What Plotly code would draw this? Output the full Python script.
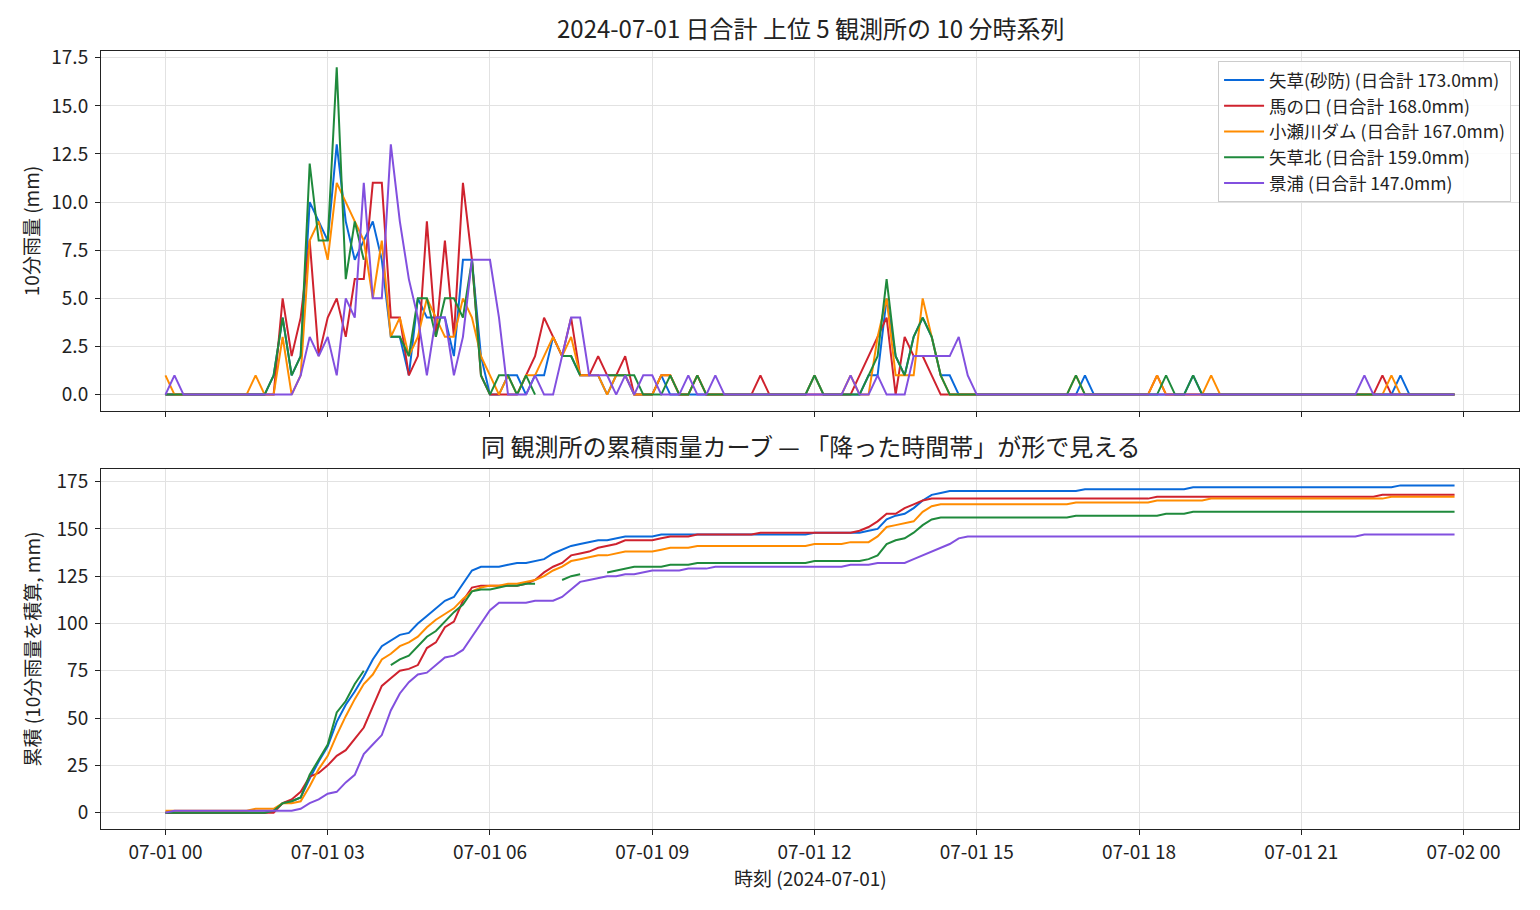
import pandas as pd
import plotly.graph_objects as go
from plotly.subplots import make_subplots

# 10-minute steps for 2024-07-01
times = pd.date_range("2024-07-01 00:00", periods=144, freq="10min")

station_names = ["矢草(砂防)", "馬の口", "小瀬川ダム", "矢草北", "景浦"]
day_totals = [173.0, 168.0, 167.0, 159.0, 147.0]
line_colors = ["#0969da", "#cf222e", "#ff8c00", "#1f8a3c", "#8250df"]

# 10 min rainfall (mm), 12 values per row = 2 hours
yakusa_sabo = [
    0, 0, 0, 0, 0, 0, 0, 0, 0, 0, 0, 0,
    1, 4, 1, 2, 10, 9, 8, 13, 9, 7, 8, 9,
    7, 3, 3, 1, 5, 4, 4, 4, 2, 7, 7, 2,
    0, 0, 1, 1, 0, 1, 1, 3, 2, 2, 1, 1,
    1, 0, 1, 1, 0, 0, 0, 1, 0, 0, 0, 0,
    0, 0, 0, 0, 0, 0, 0, 0, 0, 0, 0, 0,
    1, 0, 0, 0, 0, 0, 1, 1, 5, 2, 1, 3,
    4, 3, 1, 1, 0, 0, 0, 0, 0, 0, 0, 0,
    0, 0, 0, 0, 0, 0, 1, 0, 0, 0, 0, 0,
    0, 0, 0, 0, 0, 0, 1, 0, 0, 0, 0, 0,
    0, 0, 0, 0, 0, 0, 0, 0, 0, 0, 0, 0,
    0, 0, 0, 0, 0, 1, 0, 0, 0, 0, 0, 0,
]
umanokuchi = [
    0, 0, 0, 0, 0, 0, 0, 0, 0, 0, 0, 0,
    0, 5, 2, 4, 8, 2, 4, 5, 3, 6, 6, 11,
    11, 4, 4, 1, 2, 9, 3, 8, 3, 11, 7, 1,
    0, 0, 0, 0, 1, 2, 4, 3, 2, 4, 1, 1,
    2, 1, 1, 2, 0, 0, 0, 1, 1, 0, 0, 1,
    0, 0, 0, 0, 0, 0, 1, 0, 0, 0, 0, 0,
    0, 0, 0, 0, 0, 1, 2, 3, 4, 0, 3, 2,
    2, 1, 0, 0, 0, 0, 0, 0, 0, 0, 0, 0,
    0, 0, 0, 0, 0, 0, 0, 0, 0, 0, 0, 0,
    0, 0, 1, 0, 0, 0, 0, 0, 0, 0, 0, 0,
    0, 0, 0, 0, 0, 0, 0, 0, 0, 0, 0, 0,
    0, 0, 0, 1, 0, 0, 0, 0, 0, 0, 0, 0,
]
kosegawa_dam = [
    1, 0, 0, 0, 0, 0, 0, 0, 0, 0, 1, 0,
    0, 3, 0, 1, 8, 9, 7, 11, 10, 9, 8, 5,
    8, 3, 4, 2, 3, 5, 4, 3, 3, 5, 4, 2,
    1, 0, 1, 0, 1, 1, 2, 3, 2, 3, 1, 1,
    1, 0, 1, 1, 0, 0, 0, 1, 1, 0, 0, 1,
    0, 0, 0, 0, 0, 0, 0, 0, 0, 0, 0, 0,
    1, 0, 0, 0, 1, 0, 0, 3, 5, 1, 1, 1,
    5, 3, 1, 0, 0, 0, 0, 0, 0, 0, 0, 0,
    0, 0, 0, 0, 0, 1, 0, 0, 0, 0, 0, 0,
    0, 0, 1, 0, 0, 0, 0, 0, 1, 0, 0, 0,
    0, 0, 0, 0, 0, 0, 0, 0, 0, 0, 0, 0,
    0, 0, 0, 0, 1, 0, 0, 0, 0, 0, 0, 0,
]
# None = missing record
yakusa_kita = [
    0, 0, 0, 0, 0, 0, 0, 0, 0, 0, 0, 0,
    1, 4, 1, 2, 12, 8, 8, 17, 6, 9, 7, None,
    None, 3, 3, 2, 5, 5, 3, 5, 5, 4, 7, 1,
    0, 1, 1, 0, 1, 0, None, None, 2, 2, 1, None,
    None, 1, 1, 1, 1, 0, 0, 0, 1, 0, 0, 1,
    0, 0, 0, 0, 0, 0, 0, 0, 0, 0, 0, 0,
    1, 0, 0, 0, 0, 0, 1, 2, 6, 2, 1, 3,
    4, 3, 1, 0, 0, 0, 0, 0, 0, 0, 0, 0,
    0, 0, 0, 0, 0, 1, 0, 0, 0, 0, 0, 0,
    0, 0, 0, 1, 0, 0, 1, 0, 0, 0, 0, 0,
    0, 0, 0, 0, 0, 0, 0, 0, 0, 0, 0, 0,
    0, 0, 0, 0, 0, 0, 0, 0, 0, 0, 0, 0,
]
kageura = [
    0, 1, 0, 0, 0, 0, 0, 0, 0, 0, 0, 0,
    0, 0, 0, 1, 3, 2, 3, 1, 5, 4, 11, 5,
    5, 13, 9, 6, 4, 1, 4, 4, 1, 3, 7, 7,
    7, 4, 0, 0, 0, 1, 0, 0, 2, 4, 4, 1,
    1, 1, 0, 1, 0, 1, 1, 0, 0, 0, 1, 0,
    0, 1, 0, 0, 0, 0, 0, 0, 0, 0, 0, 0,
    0, 0, 0, 0, 1, 0, 0, 1, 0, 0, 0, 2,
    2, 2, 2, 2, 3, 1, 0, 0, 0, 0, 0, 0,
    0, 0, 0, 0, 0, 0, 0, 0, 0, 0, 0, 0,
    0, 0, 0, 0, 0, 0, 0, 0, 0, 0, 0, 0,
    0, 0, 0, 0, 0, 0, 0, 0, 0, 0, 0, 0,
    0, 1, 0, 0, 0, 0, 0, 0, 0, 0, 0, 0,
]

series = [yakusa_sabo, umanokuchi, kosegawa_dam, yakusa_kita, kageura]
df = pd.DataFrame({n: pd.Series(v, dtype="float") for n, v in zip(station_names, series)})
df.index = times
cum = df.cumsum()  # NaN stays NaN -> gaps in the curve

FONT = "Noto Sans CJK JP"
INK = "#222222"

fig = make_subplots(rows=2, cols=1, shared_xaxes=True, vertical_spacing=0.0746)

for name, total, color in zip(station_names, day_totals, line_colors):
    fig.add_trace(go.Scatter(x=times, y=df[name], mode="lines", name=f"{name} (日合計 {total:.1f}mm)",
                             line=dict(color=color, width=2)), row=1, col=1)
    fig.add_trace(go.Scatter(x=times, y=cum[name], mode="lines", showlegend=False,
                             line=dict(color=color, width=2)), row=2, col=1)

x_lo = pd.Timestamp("2024-07-01 00:00") - pd.Timedelta(minutes=71.5)
x_hi = pd.Timestamp("2024-07-01 23:50") + pd.Timedelta(minutes=71.5)

axis_style = dict(showline=True, linecolor=INK, linewidth=1, mirror=True, ticks="outside",
                  ticklen=5, tickcolor=INK, showgrid=True, gridcolor="#e2e2e2", gridwidth=1,
                  zeroline=False, ticklabelstandoff=3, tickfont=dict(family=FONT, size=19, color=INK))

fig.update_xaxes(axis_style, type="date", range=[x_lo, x_hi], tick0="2024-07-01 00:00",
                 dtick=3 * 3600 * 1000, tickformat="%m-%d %H", ticklabelstandoff=1)
fig.update_xaxes(showticklabels=False, row=1, col=1)
fig.update_yaxes(axis_style)
fig.update_yaxes(range=[-0.85, 17.85], dtick=2.5, tickformat=".1f",
                 title=dict(text="10分雨量 (mm)", font=dict(family=FONT, size=19, color=INK), standoff=6),
                 row=1, col=1)
fig.update_yaxes(range=[-8.65, 181.65], dtick=25,
                 title=dict(text="累積 (10分雨量を積算, mm)", font=dict(family=FONT, size=19, color=INK), standoff=10),
                 row=2, col=1)

fig.add_annotation(text="2024-07-01 日合計 上位 5 観測所の 10 分時系列", xref="x domain", yref="y domain",
                   x=0.5, y=1, yanchor="bottom", yshift=4, showarrow=False,
                   font=dict(family=FONT, size=24, color=INK))
fig.add_annotation(text="同 観測所の累積雨量カーブ — 「降った時間帯」が形で見える", xref="x2 domain", yref="y2 domain",
                   x=0.5, y=1, yanchor="bottom", yshift=4, showarrow=False,
                   font=dict(family=FONT, size=24, color=INK))
# x axis title
fig.add_annotation(text="時刻 (2024-07-01)", xref="paper", yref="paper", x=0.5, y=-0.0617,
                   yanchor="middle", showarrow=False, font=dict(family=FONT, size=19, color=INK))

fig.update_layout(
    width=1540, height=910,
    margin=dict(l=93, r=29, t=43, b=89),
    paper_bgcolor="white", plot_bgcolor="white",
    font=dict(family=FONT, size=19, color=INK),
    legend=dict(x=0.9944, y=0.987, xanchor="right", yanchor="top", bgcolor="rgba(255,255,255,0.85)",
                bordercolor="#cccccc", borderwidth=1, itemwidth=40,
                font=dict(family=FONT, size=17.5, color=INK)),
    showlegend=True,
)

fig.write_html("out.html")
